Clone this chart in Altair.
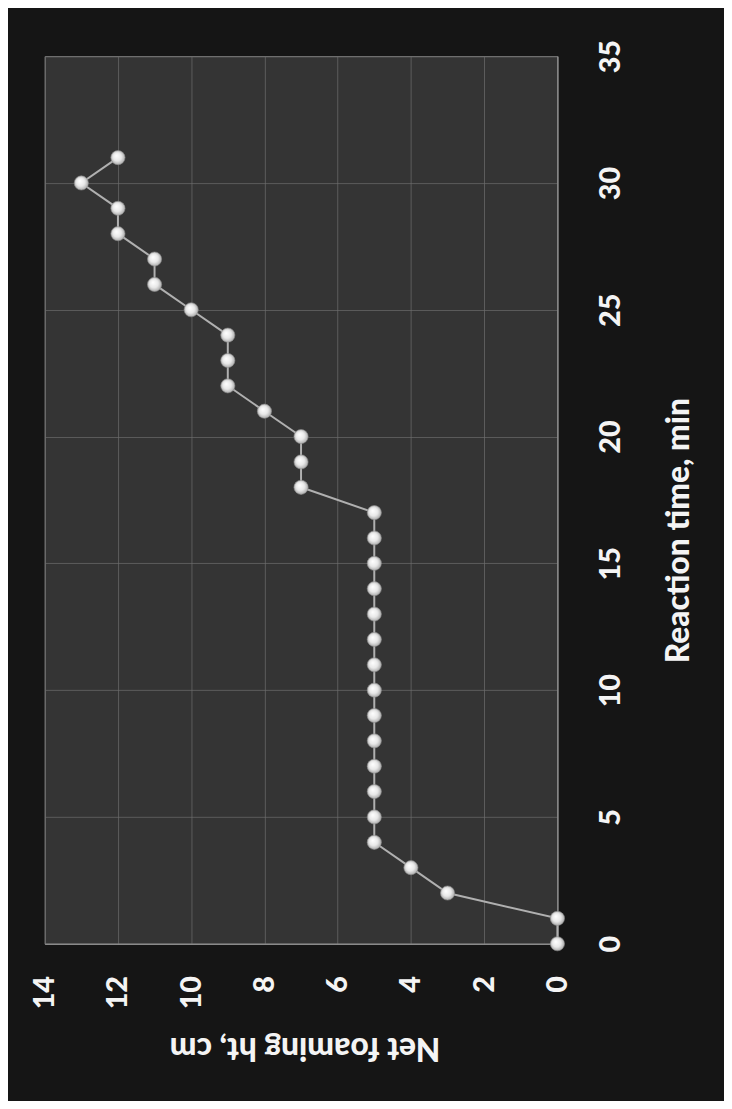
import altair as alt
import pandas as pd

# Data read from the (rotated) reference chart
reaction_time = list(range(0, 32))
net_foaming_ht = [0, 0, 3, 4,
                  5, 5, 5, 5, 5, 5, 5, 5, 5, 5, 5, 5, 5, 5,
                  7, 7, 7, 8, 9, 9, 9, 10, 11, 11, 12, 12, 13, 12]
time_ticks = [0, 5, 10, 15, 20, 25, 30, 35]
height_ticks = [0, 2, 4, 6, 8, 10, 12, 14]

df = pd.DataFrame({"time": reaction_time, "ht": net_foaming_ht})

FONT = "Lato"
TXT = "#f4f4f4"
GRID = "#6e6e6e"

x_enc = alt.X(
    "ht:Q",
    scale=alt.Scale(domain=[0, 14], reverse=True, nice=False, zero=False),
    axis=alt.Axis(
        orient="bottom",
        values=height_ticks,
        title="Net foaming ht, cm",
        titleAngle=180,
        titleAlign="center",
        titleBaseline="middle",
        titleX=262,
        titleY=105,
        labelAngle=270,
        labelAlign="right",
        labelBaseline="middle",
        labelPadding=32,
        labelFlush=False,
        labelOverlap=False,
        ticks=False,
        grid=True,
    ),
)
y_enc = alt.Y(
    "time:Q",
    scale=alt.Scale(domain=[0, 35], nice=False, zero=False),
    axis=alt.Axis(
        orient="right",
        values=time_ticks,
        title="Reaction time, min",
        titleAngle=270,
        titleAlign="center",
        titleBaseline="middle",
        titleX=122,
        titleY=478,
        labelAngle=270,
        labelAlign="center",
        labelBaseline="top",
        labelPadding=40,
        labelFlush=False,
        labelOverlap=False,
        ticks=False,
        grid=True,
    ),
)

line = alt.Chart(df).mark_line(color="#b0b0b0", strokeWidth=2).encode(
    x=x_enc, y=y_enc, order="time:Q"
)

ball = alt.RadialGradient(
    gradient="radial",
    x1=0.38, y1=0.35, r1=0.0,
    x2=0.5, y2=0.5, r2=0.55,
    stops=[
        alt.GradientStop(color="#ffffff", offset=0.0),
        alt.GradientStop(color="#e8e8e8", offset=0.55),
        alt.GradientStop(color="#a0a0a0", offset=1.0),
    ],
)
points = alt.Chart(df).mark_point(
    filled=True, fill=ball, opacity=1, size=205,
    stroke="#8c8c8c", strokeWidth=0.6, shape="circle",
).encode(x=x_enc, y=y_enc)

chart = (
    alt.layer(line, points)
    .properties(
        width=517,
        height=895,
        autosize=alt.AutoSizeParams(type="none"),
        padding={"left": 37, "top": 44, "right": 168, "bottom": 154},
    )
    .configure(background="#151515")
    .configure_view(fill="#343434", stroke="#808080", strokeWidth=1)
    .configure_axis(
        labelFont=FONT,
        labelFontSize=29,
        labelFontWeight=900,
        labelColor=TXT,
        titleFont=FONT,
        titleFontSize=32,
        titleFontWeight=900,
        titleColor=TXT,
        gridColor=GRID,
        gridWidth=1,
        gridOpacity=0.7,
        domainColor="#9a9a9a",
        domainWidth=1,
    )
)

chart.save("out.html", embed_options={"renderer": "svg", "actions": False})
